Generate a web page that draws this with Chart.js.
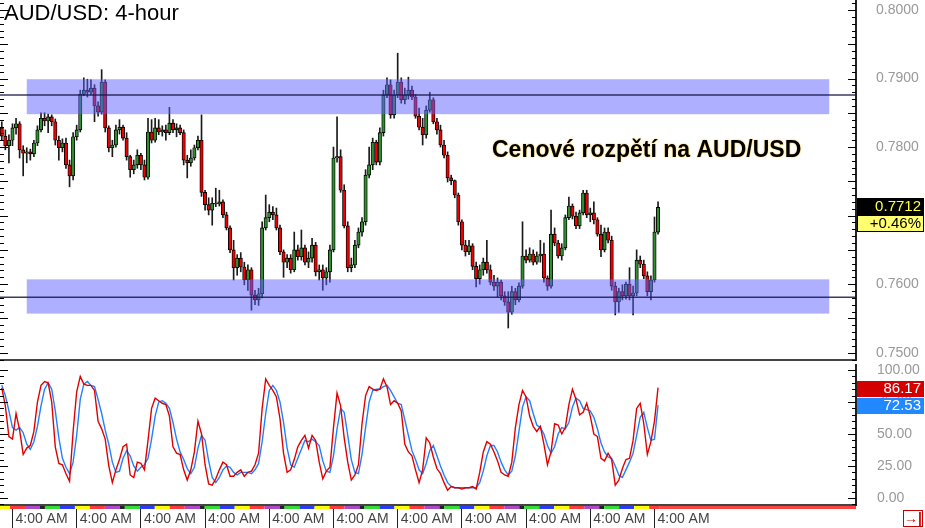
<!DOCTYPE html>
<html lang="cs">
<head>
  <meta charset="UTF-8">
  <title>AUD/USD: 4-hour</title>
  <script src="https://cdn.jsdelivr.net/npm/chart.js"></script>
  <style>
    body { margin: 0; background: #fff; }
    #wrap { position: relative; width: 925px; height: 528px; overflow: hidden; }
    canvas { position: absolute; left: 0; }
    #priceChart { top: 0; }
    #stochChart { top: 362px; }
  </style>
</head>
<body>
<div id="wrap">
  <canvas id="priceChart" width="925" height="362"></canvas>
  <canvas id="stochChart" width="925" height="166"></canvas>
</div>

<script>
  const chartTitle = 'AUD/USD: 4-hour';
  const noteText = 'Cenové rozpětí na AUD/USD';
  const changeText = '+0.46%';

  // 4h candles
  const opens = [
    .7828,.7816,.7802,.7810,.7828,.7834,.7796,.7791,.7793,.7790,
    .7806,.7825,.7842,.7838,.7844,.7837,.7810,.7799,.7806,.7774,
    .7758,.7815,.7825,.7877,.7883,.7880,.7886,.7860,.7851,.7895,
    .7828,.7799,.7803,.7825,.7829,.7813,.7786,.7767,.7774,.7788,
    .7774,.7756,.7822,.7810,.7828,.7822,.7825,.7821,.7835,.7825,
    .7828,.7821,.7781,.7777,.7784,.7799,.7810,.7734,.7716,.7708,
    .7718,.7717,.7720,.7701,.7682,.7650,.7624,.7638,.7625,.7606,
    .7621,.7584,.7577,.7586,.7682,.7697,.7705,.7701,.7682,.7647,
    .7632,.7638,.7621,.7650,.7640,.7653,.7632,.7638,.7657,.7618,
    .7621,.7609,.7618,.7650,.7784,.7786,.7737,.7685,.7624,.7628,
    .7657,.7676,.7691,.7759,.7774,.7807,.7778,.7821,.7876,.7891,
    .7847,.7876,.7895,.7869,.7876,.7883,.7873,.7845,.7829,.7818,
    .7854,.7869,.7837,.7825,.7803,.7788,.7755,.7751,.7730,.7691,
    .7657,.7647,.7656,.7626,.7608,.7621,.7632,.7621,.7603,.7597,
    .7603,.7583,.7574,.7559,.7589,.7577,.7597,.7641,.7635,.7644,
    .7632,.7641,.7644,.7609,.7597,.7673,.7660,.7641,.7653,.7697,
    .7714,.7699,.7685,.7704,.7733,.7701,.7704,.7694,.7673,.7650,
    .7676,.7664,.7597,.7574,.7589,.7583,.7600,.7583,.7587,.7635,
    .7629,.7612,.7589,.7606,.7676
  ];
  const highs = [
    .7837,.7825,.7818,.7834,.7842,.7837,.7802,.7799,.7797,.7810,
    .7831,.7850,.7850,.7848,.7847,.7841,.7816,.7812,.7813,.7781,
    .7821,.7832,.7883,.7901,.7899,.7898,.7891,.7866,.7913,.7898,
    .7831,.7810,.7832,.7840,.7832,.7821,.7788,.7781,.7796,.7791,
    .7781,.7842,.7840,.7842,.7840,.7831,.7832,.7858,.7840,.7834,
    .7832,.7825,.7788,.7796,.7803,.7816,.7847,.7737,.7726,.7726,
    .7740,.7737,.7723,.7705,.7685,.7664,.7643,.7646,.7632,.7628,
    .7624,.7591,.7594,.7691,.7730,.7716,.7713,.7711,.7686,.7650,
    .7643,.7643,.7676,.7657,.7679,.7657,.7647,.7667,.7661,.7628,
    .7628,.7624,.7657,.7800,.7844,.7796,.7745,.7691,.7638,.7664,
    .7682,.7697,.7767,.7800,.7813,.7810,.7828,.7883,.7901,.7898,
    .7883,.7937,.7901,.7886,.7902,.7889,.7877,.7857,.7842,.7860,
    .7880,.7872,.7842,.7832,.7810,.7793,.7759,.7752,.7733,.7694,
    .7664,.7664,.7659,.7632,.7628,.7638,.7664,.7628,.7613,.7609,
    .7606,.7589,.7589,.7597,.7594,.7602,.7691,.7650,.7653,.7650,
    .7647,.7664,.7660,.7612,.7708,.7682,.7664,.7659,.7701,.7727,
    .7717,.7705,.7708,.7737,.7737,.7711,.7720,.7697,.7686,.7682,
    .7682,.7670,.7603,.7594,.7599,.7603,.7624,.7597,.7650,.7641,
    .7635,.7618,.7612,.7698,.7720
  ];
  const lows = [
    .7810,.7796,.7777,.7802,.7819,.7784,.7758,.7777,.7781,.7786,
    .7802,.7822,.7831,.7821,.7831,.7803,.7781,.7793,.7769,.7742,
    .7752,.7810,.7822,.7875,.7873,.7876,.7837,.7845,.7848,.7822,
    .7793,.7786,.7800,.7819,.7810,.7781,.7756,.7761,.7769,.7767,
    .7752,.7753,.7806,.7807,.7818,.7816,.7810,.7818,.7821,.7815,
    .7818,.7774,.7755,.7772,.7781,.7796,.7728,.7708,.7701,.7686,
    .7713,.7714,.7697,.7679,.7646,.7606,.7613,.7618,.7599,.7591,
    .7562,.7570,.7569,.7580,.7679,.7691,.7694,.7679,.7643,.7610,
    .7624,.7616,.7618,.7635,.7635,.7628,.7624,.7632,.7612,.7606,
    .7591,.7599,.7603,.7647,.7778,.7734,.7682,.7618,.7618,.7624,
    .7653,.7670,.7686,.7755,.7767,.7774,.7774,.7816,.7872,.7842,
    .7842,.7872,.7864,.7863,.7870,.7869,.7842,.7825,.7803,.7813,
    .7851,.7834,.7819,.7800,.7784,.7749,.7745,.7726,.7686,.7650,
    .7641,.7643,.7621,.7596,.7600,.7613,.7616,.7599,.7591,.7581,
    .7577,.7569,.7536,.7556,.7570,.7574,.7594,.7631,.7632,.7628,
    .7629,.7632,.7603,.7591,.7594,.7656,.7638,.7635,.7650,.7694,
    .7695,.7681,.7681,.7701,.7697,.7691,.7688,.7670,.7640,.7647,
    .7660,.7591,.7555,.7559,.7577,.7578,.7577,.7555,.7583,.7624,
    .7608,.7583,.7577,.7603,.7673
  ];
  const closes = [
    .7816,.7802,.7810,.7828,.7834,.7796,.7791,.7793,.7790,.7806,
    .7825,.7842,.7838,.7844,.7837,.7810,.7799,.7806,.7774,.7758,
    .7815,.7825,.7877,.7883,.7880,.7886,.7860,.7851,.7895,.7828,
    .7799,.7803,.7825,.7829,.7813,.7786,.7767,.7774,.7788,.7774,
    .7756,.7822,.7810,.7828,.7822,.7825,.7821,.7835,.7825,.7828,
    .7821,.7781,.7777,.7784,.7799,.7810,.7734,.7716,.7708,.7718,
    .7717,.7720,.7701,.7682,.7650,.7624,.7638,.7625,.7606,.7621,
    .7584,.7577,.7586,.7682,.7697,.7705,.7701,.7682,.7647,.7632,
    .7638,.7621,.7650,.7640,.7653,.7632,.7638,.7657,.7618,.7621,
    .7609,.7618,.7650,.7784,.7786,.7737,.7685,.7624,.7628,.7657,
    .7676,.7691,.7759,.7774,.7807,.7778,.7821,.7876,.7891,.7847,
    .7876,.7895,.7869,.7876,.7883,.7873,.7845,.7829,.7818,.7854,
    .7869,.7837,.7825,.7803,.7788,.7755,.7751,.7730,.7691,.7657,
    .7647,.7656,.7626,.7608,.7621,.7632,.7621,.7603,.7597,.7603,
    .7583,.7574,.7559,.7589,.7577,.7597,.7641,.7635,.7644,.7632,
    .7641,.7644,.7609,.7597,.7673,.7660,.7641,.7653,.7697,.7714,
    .7699,.7685,.7704,.7733,.7701,.7704,.7694,.7673,.7650,.7676,
    .7664,.7597,.7574,.7589,.7583,.7600,.7583,.7587,.7635,.7629,
    .7612,.7589,.7606,.7676,.7712
  ];

  // stochastic oscillator
  const kLine = [
    86,72,48,46,66,53,34,39,41,52, 75,88,91,90,75,40,27,26,19,13,
    52,83,95,89,88,88,84,60,54,46, 25,12,22,30,40,42,18,16,28,27,
    22,45,70,78,76,74,73,64,40,35, 34,22,14,22,36,60,50,26,11,10,
    15,22,28,26,17,17,20,22,17,20, 21,26,35,70,93,88,84,79,62,35,
    20,22,30,40,45,49,39,49,45,28, 15,21,24,55,82,72,47,28,14,18,
    26,58,80,87,85,84,85,93,87,73, 76,74,68,42,36,33,22,12,22,47,
    43,32,23,19,12,6,9,8,8,7,     8,8,9,7,20,36,44,42,36,29,
    20,18,17,28,55,73,84,79,64,56, 52,56,42,26,36,58,57,50,55,73,
    85,77,65,67,74,64,50,48,31,29, 35,30,10,14,23,30,31,45,70,74,
    58,34,44,60,86.17
  ];
  const dLine = [
    88,80,68,55,53,55,51,42,38,44, 56,72,85,90,85,68,47,31,24,19,
    28,49,77,89,91,88,87,77,66,53, 42,28,20,21,31,37,33,25,21,24,
    26,31,46,64,75,76,74,70,59,46, 36,30,23,19,24,39,49,45,29,16,
    12,16,22,25,24,20,18,20,20,20, 19,22,27,44,66,84,88,84,75,59,
    39,26,24,31,38,45,44,46,44,41, 29,21,20,33,54,70,67,49,30,20,
    19,34,55,75,84,85,85,87,88,84, 79,74,73,61,49,37,30,22,19,27,
    37,41,33,25,18,12,9,8,8,8,     8,8,8,8,12,21,33,41,41,36,
    28,22,18,21,33,52,71,79,76,66, 57,55,50,41,35,40,50,55,54,59,
    71,78,76,70,69,68,63,54,43,36, 32,31,25,18,16,22,28,35,49,63,
    67,55,45,46,72.53
  ];

  // axis ticks / labels
  const SLOTS = 240;
  const timeTickSlots = [3, 21, 39, 57, 75, 93, 111, 129, 147, 165, 183];
  const timeTickText = '4:00 AM';
  const priceTicks = [0.75, 0.76, 0.77, 0.78, 0.79, 0.80];
  const stochTicks = [0, 25, 50, 75, 100];

  // range zones and the lines through them
  const zones = [[0.7848, 0.7899], [0.7557, 0.7607]];
  const zoneSlots = [7, 232];
  const levels = [0.7876, 0.7581];

  // coloured session strip under the oscillator
  const sessionColors = ['#ffff00', '#ff3b3b', '#b048cc', '#222222', '#33dd33', '#2b3bff'];
  const sessionSpans = [4.2, 4.2, 4.2, 1.4, 4.2, 4.2];

  const FONT = "'Liberation Sans', Arial, sans-serif";
  const slotLabels = [];
  for (let i = 0; i < SLOTS; i++) slotLabels.push(String(i));

  function edgeTicks(chart, step, majorEvery) {
    const { ctx, chartArea: a, scales: { y } } = chart;
    ctx.save();
    ctx.strokeStyle = '#000';
    ctx.lineWidth = 1;
    const n0 = Math.ceil(y.min / step - 1e-6), n1 = Math.floor(y.max / step + 1e-6);
    for (let n = n0; n <= n1; n++) {
      const py = Math.round(y.getPixelForValue(n * step)) + 0.5;
      const len = n % majorEvery === 0 ? 8 : 4;
      ctx.beginPath();
      ctx.moveTo(a.left, py); ctx.lineTo(a.left + len, py);
      ctx.moveTo(a.right - len, py); ctx.lineTo(a.right, py);
      ctx.stroke();
    }
    ctx.restore();
  }

  function fixAxis(width) {
    return (s) => {
      if (width) s.width = width;
      s.paddingTop = 0; s.paddingBottom = 0;
      s.paddingLeft = 0; s.paddingRight = 0;
    };
  }

  const isOn = (v, list) => list.some(t => Math.abs(t - v) < 1e-6);

  const priceDecor = {
    id: 'priceDecor',
    afterDatasetsDraw(chart) {
      const { ctx, chartArea: a, scales: { x, y } } = chart;
      ctx.save();
      ctx.fillStyle = 'rgba(96, 96, 255, 0.5)';
      const zx0 = x.getPixelForValue(zoneSlots[0]);
      const zx1 = x.getPixelForValue(zoneSlots[1]);
      zones.forEach(([lo, hi]) => {
        const top = y.getPixelForValue(hi), bot = y.getPixelForValue(lo);
        ctx.fillRect(zx0, top, zx1 - zx0, bot - top);
      });
      ctx.strokeStyle = 'rgba(25, 25, 70, 0.85)';
      ctx.lineWidth = 1.5;
      levels.forEach(lv => {
        const py = y.getPixelForValue(lv);
        ctx.beginPath(); ctx.moveTo(a.left, py); ctx.lineTo(a.right, py); ctx.stroke();
      });
      ctx.restore();
    },
    afterDraw(chart) {
      const { ctx, chartArea: a, scales: { y } } = chart;
      edgeTicks(chart, 0.001, 5);
      ctx.save();
      ctx.fillStyle = '#000';
      ctx.font = '22px ' + FONT;
      ctx.textAlign = 'left';
      ctx.textBaseline = 'alphabetic';
      ctx.fillText(chartTitle, 4, 20);

      ctx.font = 'bold 23px ' + FONT;
      ctx.shadowColor = 'rgba(255, 190, 0, 0.9)';
      ctx.shadowBlur = 2;
      ctx.fillText(noteText, 492, 157);
      ctx.shadowBlur = 0;
      ctx.shadowColor = 'transparent';

      // last price + change
      const last = closes[closes.length - 1];
      const py = Math.round(y.getPixelForValue(last));
      const bx = a.right + 1, bw = chart.width - 1 - bx;
      ctx.fillStyle = '#000';
      ctx.fillRect(bx, py - 9, bw, 17);
      ctx.font = '15px ' + FONT;
      ctx.textAlign = 'right';
      ctx.textBaseline = 'middle';
      ctx.fillStyle = '#ffff40';
      ctx.fillText(last.toFixed(4), chart.width - 4, py);
      ctx.fillStyle = '#ffff70';
      ctx.fillRect(bx, py + 8, bw, 17);
      ctx.strokeStyle = '#000';
      ctx.lineWidth = 1;
      ctx.strokeRect(bx + 0.5, py + 8.5, bw - 1, 16);
      ctx.fillStyle = '#000';
      ctx.fillText(changeText, chart.width - 4, py + 17);
      ctx.restore();
    }
  };

  const stochDecor = {
    id: 'stochDecor',
    afterDraw(chart) {
      const { ctx, chartArea: a, scales: { x, y } } = chart;
      edgeTicks(chart, 5, 5);
      ctx.save();
      [[kLine, '#d40000'], [dLine, '#2188ff']].forEach(([arr, bg]) => {
        const v = arr[arr.length - 1];
        const py = Math.round(y.getPixelForValue(v));
        ctx.fillStyle = bg;
        ctx.fillRect(a.right + 1, py - 7, chart.width - a.right - 2, 16);
        ctx.fillStyle = '#fff';
        ctx.font = '15px ' + FONT;
        ctx.textAlign = 'right';
        ctx.textBaseline = 'middle';
        ctx.fillText(v.toFixed(2), chart.width - 4, py + 1);
      });

      // session strip
      const sy = a.bottom + 1, sh = 3;
      const end = closes.length - 0.5;
      let u = -1.9, k = 0;
      while (u < end) {
        const u1 = Math.min(u + sessionSpans[k % sessionSpans.length], end);
        const x0 = Math.max(x.getPixelForValue(u), a.left);
        const x1 = x.getPixelForValue(u1);
        if (x1 > x0) {
          ctx.fillStyle = sessionColors[k % sessionColors.length];
          ctx.fillRect(x0, sy, x1 - x0, sh);
        }
        u = u1; k++;
      }
      ctx.fillStyle = '#ff4444';
      const xe = x.getPixelForValue(end);
      ctx.fillRect(xe, sy, a.right - xe, sh);

      // scroll-to-end button
      const ax = chart.width - 22, ay = chart.height - 18;
      ctx.strokeStyle = '#cc0000';
      ctx.lineWidth = 1;
      ctx.strokeRect(ax + 0.5, ay + 0.5, 19, 16);
      ctx.fillStyle = '#dd0000';
      ctx.font = 'bold 14px ' + FONT;
      ctx.textAlign = 'center';
      ctx.fillText('→|', ax + 10, ay + 9);
      ctx.restore();
    }
  };

  new Chart(document.getElementById('priceChart'), {
    type: 'bar',
    data: {
      labels: slotLabels,
      datasets: [
        {
          label: 'body',
          data: opens.map((o, i) => [o, closes[i]]),
          backgroundColor: opens.map((o, i) => closes[i] >= o ? '#2f8f2f' : '#ee0000'),
          borderColor: '#000',
          borderWidth: 0.9,
          borderSkipped: false,
          barThickness: 3.4,
          grouped: false
        },
        {
          label: 'wick',
          data: lows.map((l, i) => [l, highs[i]]),
          backgroundColor: '#1a1a1a',
          barThickness: 1,
          grouped: false
        }
      ]
    },
    options: {
      responsive: false,
      animation: false,
      events: [],
      layout: { padding: { top: 0, left: 0, right: 0, bottom: 2 } },
      plugins: { legend: { display: false }, tooltip: { enabled: false } },
      scales: {
        x: {
          type: 'category',
          offset: true,
          ticks: { display: false },
          grid: { display: false, drawTicks: false },
          border: { display: true, color: '#444', width: 2 },
          afterFit: fixAxis(0)
        },
        y: {
          position: 'right',
          min: 0.74893,
          max: 0.80146,
          grid: { display: false, drawTicks: false },
          border: { display: true, color: '#222', width: 2 },
          ticks: {
            stepSize: 0.01,
            includeBounds: false,
            autoSkip: false,
            padding: 20,
            crossAlign: 'near',
            color: '#999',
            font: { family: FONT, size: 14 },
            callback: v => isOn(v, priceTicks) ? v.toFixed(4) : ''
          },
          afterFit: fixAxis(69)
        }
      }
    },
    plugins: [priceDecor]
  });

  new Chart(document.getElementById('stochChart'), {
    type: 'line',
    data: {
      labels: slotLabels,
      datasets: [
        { label: '%K', data: kLine, borderColor: '#e00000', borderWidth: 1.4, pointRadius: 0, tension: 0 },
        { label: '%D', data: dLine, borderColor: '#2080ff', borderWidth: 1.4, pointRadius: 0, tension: 0 }
      ]
    },
    options: {
      responsive: false,
      animation: false,
      events: [],
      layout: { padding: { top: 3, left: 0, right: 0, bottom: 0 } },
      plugins: { legend: { display: false }, tooltip: { enabled: false } },
      scales: {
        x: {
          type: 'category',
          offset: true,
          grid: {
            display: true,
            drawOnChartArea: false,
            drawTicks: true,
            tickLength: 23,
            offset: false,
            tickWidth: 1,
            tickColor: c => timeTickSlots.includes(c.index) ? '#222' : 'rgba(0,0,0,0)'
          },
          border: { display: true, color: '#444', width: 2 },
          ticks: {
            autoSkip: false,
            maxRotation: 0,
            minRotation: 0,
            align: 'start',
            labelOffset: 3,
            padding: -17,
            color: '#444',
            font: { family: FONT, size: 14 },
            callback: (v, i) => timeTickSlots.includes(i) ? timeTickText : ''
          },
          afterFit: s => { s.height = 23; s.paddingLeft = 0; s.paddingRight = 0; }
        },
        y: {
          position: 'right',
          min: -5.47,
          max: 103.9,
          grid: { display: false, drawTicks: false },
          border: { display: true, color: '#222', width: 2 },
          ticks: {
            stepSize: 25,
            includeBounds: false,
            autoSkip: false,
            padding: 21,
            crossAlign: 'near',
            color: '#999',
            font: { family: FONT, size: 14 },
            callback: v => isOn(v, stochTicks) ? v.toFixed(2) : ''
          },
          afterFit: fixAxis(69)
        }
      }
    },
    plugins: [stochDecor]
  });
</script>
</body>
</html>
